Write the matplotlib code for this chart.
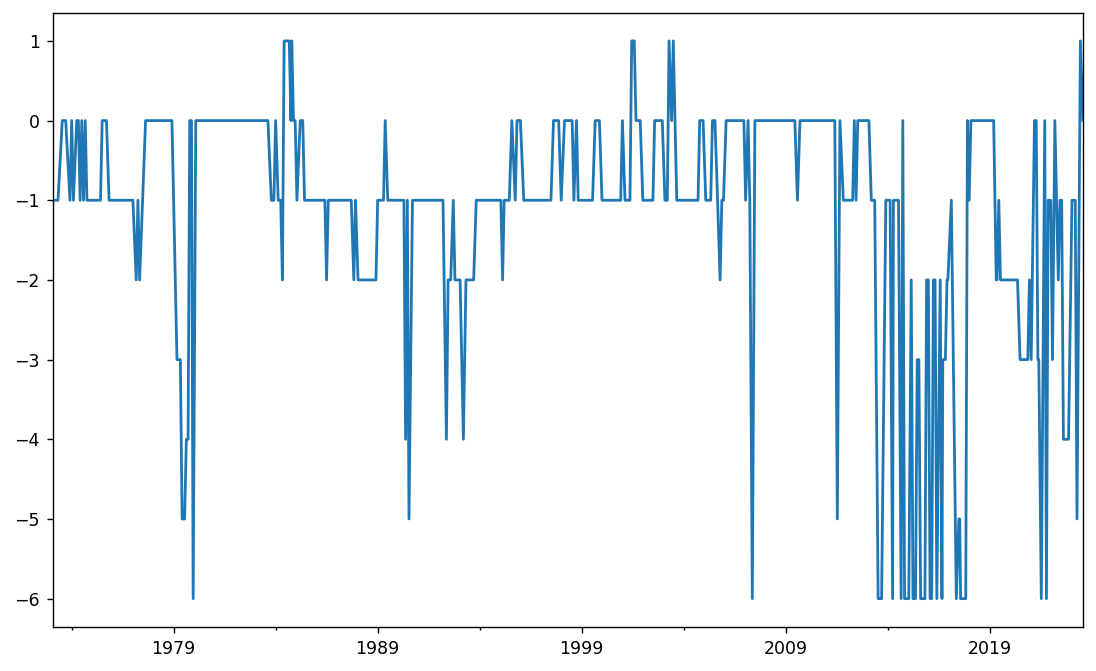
import pandas as pd
import matplotlib
matplotlib.use("Agg")
import matplotlib.pyplot as plt
import matplotlib.dates as mdates

# Datos: vertices de la serie (fecha, valor)
fechas = [
    '1973-02-01', '1973-05-01', '1973-07-16', '1973-09-16', '1973-12-01', '1974-01-01', '1974-02-01', '1974-04-01',
    '1974-05-01', '1974-06-01', '1974-07-01', '1974-08-01', '1974-09-01', '1974-10-01', '1975-06-01', '1975-07-01',
    '1975-09-16', '1975-11-01', '1977-01-01', '1977-03-01', '1977-04-01', '1977-05-01', '1977-08-16', '1978-12-01',
    '1979-03-01', '1979-05-01', '1979-06-01', '1979-07-16', '1979-08-16', '1979-09-16', '1979-10-16', '1979-11-16',
    '1979-12-16', '1980-02-01', '1983-08-16', '1983-10-16', '1983-12-01', '1984-01-01', '1984-02-16', '1984-04-01',
    '1984-05-01', '1984-06-01', '1984-09-01', '1984-10-01', '1984-10-16', '1984-11-16', '1984-12-16', '1985-01-16',
    '1985-03-16', '1985-05-01', '1985-06-01', '1986-06-01', '1986-07-01', '1986-08-01', '1987-09-16', '1987-11-01',
    '1987-12-01', '1988-01-16', '1988-12-01', '1989-01-01', '1989-04-16', '1989-05-16', '1989-07-01', '1990-04-16',
    '1990-05-16', '1990-06-16', '1990-07-16', '1990-09-16', '1992-03-16', '1992-05-16', '1992-06-16', '1992-08-01',
    '1992-09-16', '1992-10-16', '1993-01-16', '1993-03-16', '1993-05-01', '1993-09-16', '1993-11-01', '1995-01-16',
    '1995-02-16', '1995-03-16', '1995-06-16', '1995-08-01', '1995-10-01', '1995-11-01', '1996-01-01', '1996-03-01',
    '1997-07-01', '1997-08-16', '1997-11-16', '1998-01-01', '1998-03-01', '1998-07-16', '1998-08-16', '1998-10-01',
    '1998-11-01', '1999-07-16', '1999-09-01', '1999-11-16', '2000-01-01', '2000-12-01', '2001-01-01', '2001-02-16',
    '2001-05-16', '2001-06-16', '2001-08-01', '2001-09-01', '2001-11-16', '2002-01-01', '2002-07-01', '2002-08-01',
    '2002-12-16', '2003-02-01', '2003-03-16', '2003-04-16', '2003-06-01', '2003-07-01', '2003-09-01', '2004-09-16',
    '2004-10-16', '2004-12-16', '2005-02-01', '2005-05-01', '2005-06-01', '2005-07-16', '2005-09-01', '2005-10-16',
    '2005-11-16', '2005-12-16', '2006-02-01', '2006-12-16', '2007-01-16', '2007-03-01', '2007-04-01', '2007-05-16',
    '2007-07-01', '2009-06-16', '2009-08-01', '2009-09-16', '2011-06-01', '2011-07-16', '2011-09-01', '2011-11-01',
    '2012-04-16', '2012-05-16', '2012-06-16', '2012-07-16', '2013-02-01', '2013-03-16', '2013-05-16', '2013-07-16',
    '2013-09-16', '2013-12-01', '2014-02-16', '2014-04-01', '2014-04-16', '2014-07-16', '2014-09-01', '2014-10-01',
    '2014-11-01', '2015-01-16', '2015-03-01', '2015-04-01', '2015-05-16', '2015-06-16', '2015-07-16', '2015-08-16',
    '2015-11-01', '2015-12-01', '2016-01-01', '2016-02-01', '2016-03-01', '2016-04-01', '2016-05-01', '2016-06-01',
    '2016-08-01', '2016-09-01', '2016-09-16', '2016-11-01', '2016-12-01', '2016-12-16', '2017-02-16', '2017-05-16',
    '2017-07-01', '2017-07-16', '2017-08-01', '2017-11-01', '2017-12-01', '2018-01-01', '2018-02-01', '2019-03-16',
    '2019-05-01', '2019-05-16', '2019-06-16', '2019-07-16', '2020-05-16', '2020-07-01', '2020-11-16', '2020-12-16',
    '2021-01-16', '2021-03-16', '2021-04-16', '2021-05-16', '2021-06-01', '2021-07-16', '2021-09-16', '2021-10-16',
    '2021-11-16', '2022-01-01', '2022-02-01', '2022-03-16', '2022-04-16', '2022-05-16', '2022-06-16', '2022-07-16',
    '2022-08-16', '2022-11-16', '2023-01-16', '2023-03-16', '2023-04-16', '2023-06-16', '2023-08-01',
]
valores = [
    -1, -1, 0, 0, -1, 0, -1, 0,
    0, -1, 0, -1, 0, -1, -1, 0,
    0, -1, -1, -2, -1, -2, 0, 0,
    -3, -3, -5, -5, -4, -4, 0, 0,
    -6, 0, 0, -1, -1, 0, -1, -1,
    -2, 1, 1, 0, 1, 0, 0, -1,
    0, 0, -1, -1, -2, -1, -1, -2,
    -1, -2, -2, -1, -1, 0, -1, -1,
    -4, -1, -5, -1, -1, -4, -2, -2,
    -1, -2, -2, -4, -2, -2, -1, -1,
    -2, -1, -1, 0, -1, 0, 0, -1,
    -1, 0, 0, -1, 0, 0, -1, 0,
    -1, -1, 0, 0, -1, -1, 0, -1,
    -1, 1, 1, 0, 0, -1, -1, 0,
    0, -1, -1, 1, 0, 1, -1, -1,
    0, 0, -1, -1, 0, 0, -1, -2,
    -1, -1, 0, 0, -1, 0, -1, -6,
    0, 0, -1, 0, 0, -5, 0, -1,
    -1, 0, -1, 0, 0, -1, -1, -6,
    -6, -1, -1, -6, -1, -1, -6, 0,
    -6, -6, -2, -6, -6, -3, -3, -6,
    -6, -2, -2, -6, -6, -2, -2, -6,
    -2, -6, -3, -3, -2, -2, -1, -6,
    -5, -5, -6, -6, 0, -1, 0, 0,
    -2, -2, -1, -2, -2, -3, -3, -2,
    -3, 0, 0, -3, -3, -6, 0, -6,
    -1, -1, -3, 0, -1, -2, -1, -1,
    -4, -4, -1, -1, -5, 1, 0,
]

serie = pd.Series(valores, index=pd.to_datetime(fechas))

# Figura
fig = plt.figure(figsize=(10.96, 6.71), dpi=100)
ax = fig.add_axes([0.0484, 0.0663, 0.9397, 0.9143])
ax.plot(serie.index, serie.values, color='#1f77b4', linewidth=2.0)

ax.set_xlim(serie.index[0], serie.index[-1])
ax.set_ylim(-6.35, 1.35)

# Ejes
ax.xaxis.set_major_locator(mdates.YearLocator(10, month=1, day=1))
ax.xaxis.set_minor_locator(mdates.YearLocator(10, month=1, day=1))
ax.set_xticks(pd.to_datetime(['1979-01-01', '1989-01-01', '1999-01-01', '2009-01-01', '2019-01-01']))
ax.set_xticks(pd.to_datetime(['1974-01-01', '1984-01-01', '1994-01-01', '2004-01-01', '2014-01-01']), minor=True)
ax.xaxis.set_major_formatter(mdates.DateFormatter('%Y'))
ax.set_yticks([1, 0, -1, -2, -3, -4, -5, -6])

ax.tick_params(axis='both', which='major', labelsize=12.5, length=4.5, width=1.0, pad=5)
ax.tick_params(axis='x', which='minor', length=2.5, width=1.0)
for s in ax.spines.values():
    s.set_linewidth(1.0)

fig.savefig('out.png', dpi=100)
